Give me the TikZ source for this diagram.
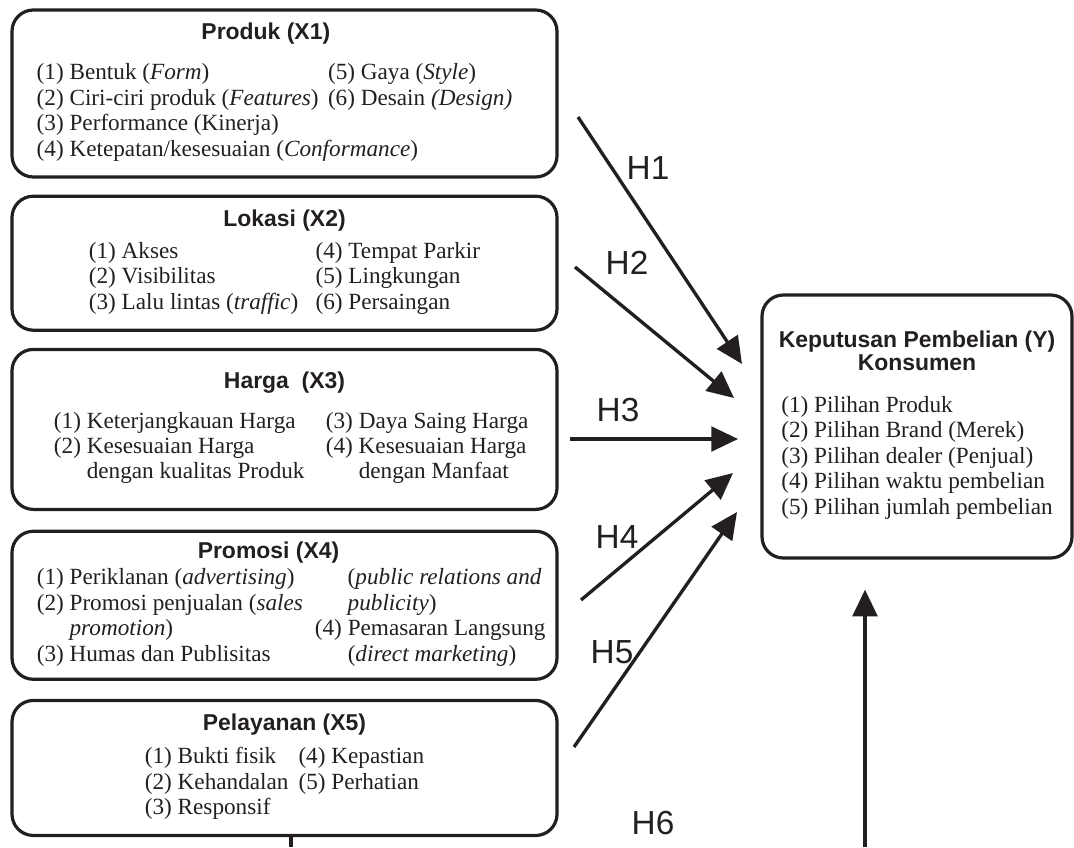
\documentclass[tikz,border=0pt]{standalone}
\usepackage{fontspec}
\setmainfont{Liberation Serif}
\newfontfamily\headfont{Liberation Sans}
\usetikzlibrary{arrows.meta,positioning}

\definecolor{ink}{RGB}{35,31,32}
\newcommand{\boxtitle}[1]{{\headfont\bfseries\fontsize{17.2}{19}\selectfont #1}}

\begin{document}
\begin{tikzpicture}[x=0.75pt,y=-0.75pt,node distance=12pt]
	\tikzstyle{box_x}=[draw=ink, line width=2.4pt, rounded corners=16pt, minimum width=408.75pt, inner sep=0pt, align=center, text=ink, font=\fontsize{17.4}{19.1}\selectfont]
	\tikzstyle{box_y}=[box_x, minimum width=232.5pt, minimum height=197.25pt]
	\tikzstyle{hyp}=[draw=ink, line width=2.5pt, -{Triangle[length=20pt,width=18.5pt]}]
	\tikzstyle{hlab}=[text=ink, font=\headfont\fontsize{25}{28}\selectfont]

	\useasboundingbox (0,0) rectangle (1074,847);

	\node[box_x, minimum height=125.25pt] (prod) at (284.5,93.5) {\boxtitle{Produk (X1)}\hspace*{28pt}\\[11pt]
		\begin{tabular}[t]{@{}l@{\hspace{7pt}}l@{}}
		(1) Bentuk (\textit{Form}) & (5) Gaya (\textit{Style})\\
		(2) Ciri-ciri produk (\textit{Features}) & (6) Desain \textit{(Design)}\\
		(3) Performance (Kinerja) & \\
		\multicolumn{2}{@{}l@{}}{(4) Ketepatan/kesesuaian (\textit{Conformance})}
		\end{tabular}\hspace*{15pt}};
	\node[box_x, minimum height=100.5pt] (lok) [below=of prod] {\boxtitle{Lokasi (X2)}\\[5pt]
		\begin{tabular}[t]{@{}l@{\hspace{13pt}}l@{}}
		(1) Akses & (4) Tempat Parkir\\
		(2) Visibilitas & (5) Lingkungan\\
		(3) Lalu lintas (\textit{traffic}) & (6) Persaingan
		\end{tabular}};
	\node[box_x, minimum height=120pt] (harga) [below=12pt of lok] {\boxtitle{Harga\ \ (X3)}\\[10.3pt]
		\hspace*{10pt}\begin{tabular}[t]{@{}l@{\hspace{16pt}}l@{}}
		(1) Keterjangkauan Harga & (3) Daya Saing Harga\\
		(2) Kesesuaian Harga & (4) Kesesuaian Harga\\
		\hphantom{(2) }dengan kualitas Produk & \hphantom{(4) }dengan Manfaat
		\end{tabular}};
	\node[box_x, minimum height=111pt] (promo) [below=14pt of harga] {\boxtitle{Promosi (X4)}\hspace*{24pt}\\[0.6pt]
		\hspace*{10pt}\begin{tabular}[t]{@{}l@{\hspace{9pt}}l@{}}
		(1) Periklanan (\textit{advertising}) & \hphantom{(4)} (\textit{public relations and}\\
		(2) Promosi penjualan (\textit{sales} & \hphantom{(4) }\textit{publicity})\\
		\hphantom{(2) }\textit{promotion}) & (4) Pemasaran Langsung\\
		(3) Humas dan Publisitas & \hphantom{(4) }(\textit{direct marketing})
		\end{tabular}};
	\node[box_x, minimum height=101.25pt] (layan) [below=13.5pt of promo] {\boxtitle{Pelayanan (X5)}\\[5.8pt]
		\begin{tabular}[t]{@{}l@{\hspace{7.5pt}}l@{}}
		(1) Bukti fisik & (4) Kepastian\\
		(2) Kehandalan & (5) Perhatian\\
		(3) Responsif &
		\end{tabular}};
	\node[box_y] (kep) at (917,426.5) {\boxtitle{Keputusan Pembelian (Y)}\\[-1.9pt]\boxtitle{Konsumen}\\[12pt]
		\begin{tabular}[t]{@{}l@{}}
		(1) Pilihan Produk\\
		(2) Pilihan Brand (Merek)\\
		(3) Pilihan dealer (Penjual)\\
		(4) Pilihan waktu pembelian\\
		(5) Pilihan jumlah pembelian
		\end{tabular}};

	% free ends of the hypothesis arrows
	\coordinate (h1s) at (578,117);
	\coordinate (h1e) at (742,364);
	\coordinate (h2s) at (575,267);
	\coordinate (h2e) at (734,398);
	\coordinate (h3s) at (570,439);
	\coordinate (h3e) at (738,439);
	\coordinate (h4s) at (581,600);
	\coordinate (h4e) at (733,473);
	\coordinate (h5s) at (574,747);
	\coordinate (h5e) at (737,512);
	\coordinate (h6a) at (291,847);
	\coordinate (h6b) at (865,847);

	\draw[hyp] (h1s) -- (h1e);
	\draw[hyp] (h2s) -- (h2e);
	\draw[hyp] (h3s) -- (h3e);
	\draw[hyp] (h4s) -- (h4e);
	\draw[hyp] (h5s) -- (h5e);
	\draw[draw=ink, line width=2.5pt] (layan.south -| h6a) -- (h6a);
	\draw[hyp, shorten >=22.5pt] (h6b) -- (kep.south -| h6b);

	\node[hlab] (lh1) at (648,168) {H1};
	\node[hlab] (lh2) at (627,263) {H2};
	\node[hlab] (lh3) at (618,410) {H3};
	\node[hlab] (lh4) at (617,537) {H4};
	\node[hlab] (lh5) at (612,652) {H5};
	\node[hlab] (lh6) at (653,823) {H6};
\end{tikzpicture}
\end{document}
